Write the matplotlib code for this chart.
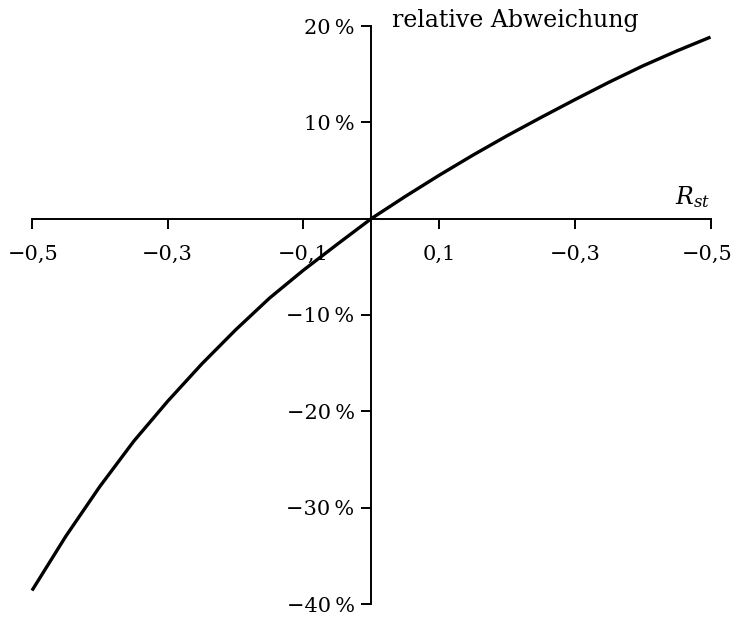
import matplotlib
matplotlib.use("Agg")
import matplotlib.pyplot as plt
from matplotlib.transforms import ScaledTranslation

# Data
r_st = [-0.5, -0.45, -0.4, -0.35, -0.3, -0.25, -0.2, -0.15, -0.1, -0.05, 0.0,
        0.05, 0.1, 0.15, 0.2, 0.25, 0.3, 0.35, 0.4, 0.45, 0.5]
rel_dev = [-38.6, -32.95, -27.8, -23.1, -18.95, -15.1, -11.55, -8.25, -5.35, -2.65, 0.0,
           2.3, 4.5, 6.6, 8.6, 10.5, 12.35, 14.15, 15.85, 17.4, 18.85]

x_ticks = [-0.5, -0.3, -0.1, 0.1, 0.3, 0.5]
x_tick_labels = ["\u22120,5", "\u22120,3", "\u22120,1", "0,1", "\u22120,3", "\u22120,5"]
y_ticks = [-40, -30, -20, -10, 10, 20]
y_tick_labels = ["\u221240\u2009%", "\u221230\u2009%", "\u221220\u2009%", "\u221210\u2009%",
                 "10\u2009%", "20\u2009%"]

plt.rcParams['font.family'] = ['DejaVu Serif']
plt.rcParams['mathtext.fontset'] = 'dejavuserif'

W, H = 734, 617
fig = plt.figure(figsize=(W / 100, H / 100), dpi=100)
x0, x1 = 32, 710.5
ytop, ybot = 26, 604
ax = fig.add_axes([x0 / W, (H - ybot) / H, (x1 - x0) / W, (ybot - ytop) / H])
ax.set_xlim(-0.5, 0.5)
ax.set_ylim(-40, 20)

ax.plot(r_st, rel_dev, color='black', lw=2.4, clip_on=False,
        solid_capstyle='butt', solid_joinstyle='round')

for s in ['top', 'right']:
    ax.spines[s].set_visible(False)
ax.spines['left'].set_position(('data', 0))
ax.spines['bottom'].set_position(('data', 0))
ax.spines['left'].set_linewidth(1.4)
ax.spines['bottom'].set_linewidth(1.4)

ax.set_xticks(x_ticks)
ax.set_xticklabels(x_tick_labels, fontsize=15)
ax.set_yticks(y_ticks)
ax.set_yticklabels(y_tick_labels, fontsize=15)
ax.tick_params(axis='x', direction='out', length=7, width=1.4, pad=12)
ax.tick_params(axis='y', direction='out', length=7, width=1.4, pad=5)

# nudge outermost x tick labels so they stay inside the canvas
lbls = ax.get_xticklabels()
lbls[-1].set_transform(lbls[-1].get_transform() + ScaledTranslation(-3 / 100, 0, fig.dpi_scale_trans))
lbls[0].set_transform(lbls[0].get_transform() + ScaledTranslation(1 / 100, 0, fig.dpi_scale_trans))

ax.text(0.03, 20.6, "relative Abweichung", fontsize=17, ha='left', va='center')
ax.text(0.5, 0.9, r"$R_{st}$", fontsize=17, ha='right', va='bottom')

fig.savefig("out.png", dpi=100, facecolor='white')
